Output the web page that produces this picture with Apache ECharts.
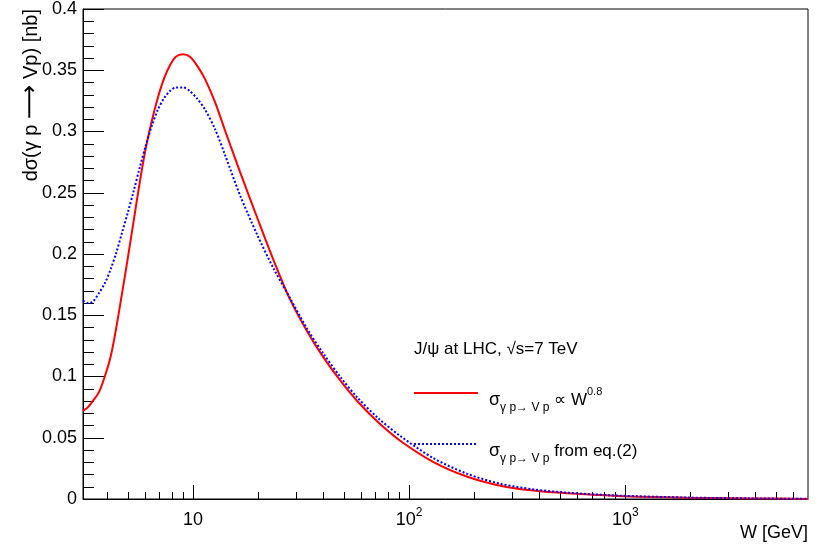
<!DOCTYPE html>
<html><head><meta charset="utf-8">
<script src="https://cdn.jsdelivr.net/npm/echarts@6/dist/echarts.min.js"></script>
<style>html,body{margin:0;padding:0;background:#fff}#c{width:819px;height:546px}</style>
</head><body><div id="c"></div>
<script>
// ---- data ----
const wRed = [3.1, 3.27, 3.44, 3.67, 3.91, 4.17, 4.40, 4.69, 5.00, 5.33, 5.68, 6.06, 6.46, 6.89, 7.34, 7.83, 8.34, 8.99, 9.68, 10.43, 11.36, 12.65, 14.06, 16.51, 19.79, 23.47, 28.12, 33.72, 40.0, 47.9, 57.5, 71.9, 90.9, 129, 186, 264, 375, 539, 918, 1936, 3790, 7000];
const sigRed = [0.072, 0.075, 0.080, 0.087, 0.100, 0.117, 0.138, 0.167, 0.197, 0.228, 0.259, 0.287, 0.309, 0.328, 0.343, 0.354, 0.361, 0.363, 0.361, 0.354, 0.343, 0.324, 0.301, 0.267, 0.230, 0.196, 0.163, 0.137, 0.116, 0.097, 0.080, 0.0626, 0.0476, 0.0304, 0.0182, 0.0109, 0.0069, 0.0046, 0.0025, 0.0011, 0.0005, 0.0001];
const wBlue = [3.1, 3.27, 3.44, 3.67, 3.91, 4.17, 4.40, 4.69, 5.00, 5.33, 5.68, 6.06, 6.46, 6.89, 7.34, 7.83, 8.34, 8.99, 9.68, 10.43, 11.36, 12.65, 14.06, 16.51, 19.79, 23.47, 28.12, 33.72, 40.0, 47.9, 57.5, 71.9, 90.9, 129, 186, 264, 375, 539, 918, 1936, 3790, 7000];
const sigBlue = [0.162, 0.160, 0.161, 0.168, 0.176, 0.188, 0.200, 0.217, 0.234, 0.252, 0.271, 0.289, 0.305, 0.318, 0.327, 0.333, 0.336, 0.336, 0.333, 0.327, 0.318, 0.302, 0.281, 0.248, 0.216, 0.189, 0.164, 0.139, 0.119, 0.100, 0.083, 0.066, 0.0515, 0.0335, 0.0205, 0.0125, 0.0079, 0.0052, 0.0028, 0.0012, 0.0005, 0.0001];
const xMajorTicks = [10, 100, 1000];
const xMajorLabels = ['10', '10{sup|2}', '10{sup|3}'];
const xMinorTicks = [4, 5, 6, 7, 8, 9, 20, 30, 40, 50, 60, 70, 80, 90, 200, 300, 400, 500, 600, 700, 800, 900, 2000, 3000, 4000, 5000, 6000];
const seriesNames = ['pow', 'eq2'];
const legendLabels = {
  pow: '{s|σ}{sub|γ p→ V p} ∝ W{sup|0.8}',
  eq2: '{s|σ}{sub|γ p→ V p} from eq.(2)'
};
const headerText = 'J/ψ at LHC, √s=7 TeV';
const xTitle = 'W [GeV]';
const yTitle = 'dσ(γ p {a|⟶} Vp) [nb]';

const FONT = '"Liberation Sans", Arial, Helvetica, sans-serif';
const zip = (a, b) => a.map((v, i) => [v, b[i]]);
const richCommon = {
  s: { fontSize: 18, fontFamily: FONT, color: '#000', lineHeight: 28 },
  sub: { fontSize: 12, fontFamily: FONT, color: '#000', verticalAlign: 'bottom', lineHeight: 12 },
  sup: { fontSize: 11, fontFamily: FONT, color: '#000', verticalAlign: 'top', lineHeight: 22 }
};

const chart = echarts.init(document.getElementById('c'), null, { renderer: 'canvas' });
const xCommon = {
  type: 'log', min: 3.1, max: 7000, position: 'bottom', gridIndex: 0,
  splitLine: { show: false }, minorTick: { show: false }, minorSplitLine: { show: false }
};
const legendCommon = {
  left: 413, padding: 0, itemWidth: 64, itemHeight: 14, itemGap: 0,
  formatter: (n) => legendLabels[n],
  itemStyle: { opacity: 0 },
  textStyle: { fontSize: 17, fontFamily: FONT, color: '#000', lineHeight: 28, padding: [14, 0, 0, 6], rich: richCommon }
};
chart.setOption({
  animation: false,
  backgroundColor: '#fff',
  grid: { left: 83, right: 11, top: 9, bottom: 47, show: true, borderColor: '#000', borderWidth: 1, containLabel: false, outerBoundsMode: 'none' },
  title: {
    text: headerText, left: 409, top: 336,
    textStyle: { fontSize: 17, fontWeight: 'normal', fontFamily: FONT, color: '#000' }
  },
  xAxis: [
    Object.assign({}, xCommon, {
      axisLine: { show: true, onZero: false, lineStyle: { color: '#000', width: 1 } },
      axisTick: { show: true, inside: true, length: 14, customValues: xMajorTicks, lineStyle: { color: '#000', width: 1 } },
      axisLabel: {
        show: true, customValues: xMajorTicks, margin: 12,
        fontSize: 18, fontFamily: FONT, color: '#000',
        formatter: (v) => xMajorLabels[xMajorTicks.indexOf(Math.round(v))] || '',
        rich: { sup: { fontSize: 12, fontFamily: FONT, color: '#000', verticalAlign: 'top', lineHeight: 12, padding: [-4, 0, 0, 0] } }
      }
    }),
    Object.assign({}, xCommon, {
      axisLine: { show: false, onZero: false },
      axisTick: { show: true, inside: true, length: 7, customValues: xMinorTicks, lineStyle: { color: '#000', width: 1 } },
      axisLabel: { show: false }
    })
  ],
  yAxis: {
    type: 'value', min: 0, max: 0.4, interval: 0.05,
    axisLine: { show: true, onZero: false, lineStyle: { color: '#000', width: 1 } },
    axisTick: { show: true, inside: true, length: 21, lineStyle: { color: '#000', width: 1 } },
    minorTick: { show: true, splitNumber: 5, length: 11, lineStyle: { color: '#000', width: 1 } },
    splitLine: { show: false },
    axisLabel: { fontSize: 18, fontFamily: FONT, color: '#000', margin: 6 }
  },
  legend: [
    Object.assign({}, legendCommon, { data: [seriesNames[0]], top: 372 }),
    Object.assign({}, legendCommon, { data: [seriesNames[1]], top: 423 })
  ],
  graphic: [
    {
      type: 'text', x: 31, y: 9, rotation: Math.PI / 2,
      style: {
        text: yTitle, fontSize: 20, fontFamily: FONT, fill: '#000', align: 'right', verticalAlign: 'middle',
        rich: { a: { fontSize: 24, fontFamily: '"DejaVu Sans", sans-serif', fill: '#000' } }
      }
    },
    {
      type: 'text', x: 808, y: 533,
      style: { text: xTitle, fontSize: 18, fontFamily: FONT, fill: '#000', align: 'right', verticalAlign: 'middle' }
    }
  ],
  series: [
    {
      name: seriesNames[0], type: 'line', xAxisIndex: 0, data: zip(wRed, sigRed),
      symbol: 'none', smooth: 0.3, clip: true,
      lineStyle: { color: '#ff0000', width: 2, type: 'solid' }, itemStyle: { color: '#ff0000' }
    },
    {
      name: seriesNames[1], type: 'line', xAxisIndex: 0, data: zip(wBlue, sigBlue),
      symbol: 'none', smooth: 0.3, clip: true, z: 3,
      lineStyle: { color: '#0000ff', width: 2, type: 'dotted' }, itemStyle: { color: '#0000ff' }
    }
  ]
});
</script>
</body></html>
